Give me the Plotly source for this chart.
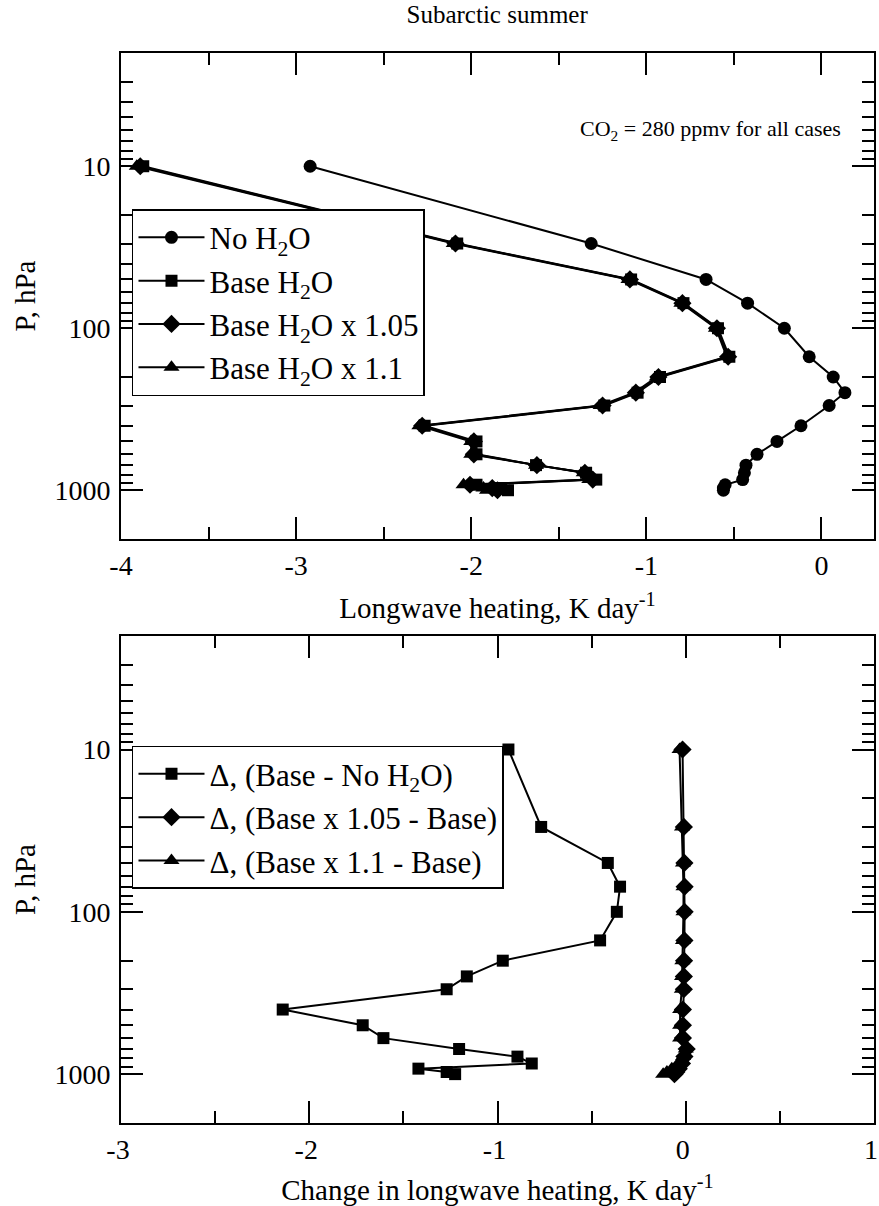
import plotly.graph_objects as go
import math

# Pressure levels (hPa)
levels = [10, 30, 50, 70, 100, 150, 200, 250, 300, 400, 500, 600, 700, 780, 860, 925, 970, 1000]

# Top panel: longwave heating, K/day
no_h2o = [-2.92, -1.315, -0.659, -0.422, -0.212, -0.070, 0.067, 0.134, 0.044, -0.117,
          -0.254, -0.368, -0.431, -0.44, -0.45, -0.55, -0.56, -0.56]
base_h2o = [-3.873, -2.08, -1.087, -0.788, -0.591, -0.526, -0.922, -1.05, -1.24, -2.266,
            -1.97, -1.97, -1.63, -1.344, -1.286, -1.97, -1.83, -1.79]
base_105 = [-3.89, -2.09, -1.094, -0.794, -0.597, -0.533, -0.931, -1.06, -1.25, -2.28,
            -1.985, -1.985, -1.625, -1.351, -1.306, -2.007, -1.88, -1.85]
base_110 = [-3.91, -2.10, -1.102, -0.80, -0.603, -0.541, -0.94, -1.07, -1.261, -2.296,
            -2.00, -2.00, -1.63, -1.358, -1.326, -2.044, -1.93, -1.91]

# Bottom panel: change in longwave heating, K/day
d_base_no = [-0.942, -0.768, -0.414, -0.349, -0.366, -0.455, -0.972, -1.163, -1.27, -2.141,
             -1.716, -1.606, -1.204, -0.894, -0.818, -1.42, -1.27, -1.225]
d_105 = [-0.017, -0.01, -0.007, -0.006, -0.006, -0.007, -0.009, -0.01, -0.01, -0.015,
         -0.015, -0.015, 0.005, -0.007, -0.02, -0.037, -0.05, -0.06]
d_110 = [-0.033, -0.02, -0.015, -0.012, -0.012, -0.015, -0.018, -0.02, -0.021, -0.03,
         -0.03, -0.03, 0.0, -0.014, -0.04, -0.074, -0.10, -0.12]

# Tick labels
y_major = [10, 100, 1000]
y_major_text = ["10", "100", "1000"]
y_minor = [2, 3, 4, 5, 6, 7, 8, 9, 20, 30, 40, 50, 60, 70, 80, 90,
           200, 300, 400, 500, 600, 700, 800, 900, 2000]
x_top_ticks = [-4, -3, -2, -1, 0]
x_top_text = ["-4", "-3", "-2", "-1", "0"]
x_bot_ticks = [-3, -2, -1, 0, 1]
x_bot_text = ["-3", "-2", "-1", "0", "1"]

FONT = "Liberation Serif"
BLACK = "black"

fig = go.Figure()

def add(x, name, symbol, size, xa, ya, legend):
    fig.add_trace(go.Scatter(
        x=x, y=levels, name=name, mode="lines+markers",
        line=dict(color=BLACK, width=2),
        marker=dict(symbol=symbol, size=size, color=BLACK),
        xaxis=xa, yaxis=ya, legend=legend, legendgroup=name))

add(no_h2o, "No H<sub>2</sub>O", "circle", 13, "x", "y", "legend")
add(base_h2o, "Base H<sub>2</sub>O", "square", 12, "x", "y", "legend")
add(base_105, "Base H<sub>2</sub>O x 1.05", "diamond", 14, "x", "y", "legend")
add(base_110, "Base H<sub>2</sub>O x 1.1", "triangle-up", 14, "x", "y", "legend")

add(d_base_no, "Δ, (Base - No H<sub>2</sub>O)", "square", 12, "x2", "y2", "legend2")
add(d_105, "Δ, (Base x 1.05 - Base)", "diamond", 14, "x2", "y2", "legend2")
add(d_110, "Δ, (Base x 1.1 - Base)", "triangle-up", 14, "x2", "y2", "legend2")

TICKFONT = dict(family=FONT, size=28, color=BLACK)
TITLEFONT = dict(family=FONT, size=29, color=BLACK)
LEGFONT = dict(family=FONT, size=31, color=BLACK)

ax_common = dict(
    showline=True, linecolor=BLACK, linewidth=2, mirror="allticks",
    ticks="inside", ticklen=22, tickwidth=2, tickcolor=BLACK,
    showgrid=False, zeroline=False, tickfont=TICKFONT, automargin=False,
    ticklabeloverflow="allow",
)

xminor = dict(ticks="inside", ticklen=12, tickwidth=2, tickcolor=BLACK, tick0=0, dtick=0.5,
              showgrid=False)
yminor = dict(ticks="inside", ticklen=12, tickwidth=2, tickcolor=BLACK, tickmode="array",
              tickvals=y_minor, showgrid=False)

top_dom = [0.5458, 1.0]
bot_dom = [0.0, 0.4551]
yrange = [math.log10(2000), math.log10(2)]

fig.update_layout(
    width=879, height=1206,
    margin=dict(l=121, r=5, t=53, b=83, autoexpand=False),
    paper_bgcolor="white", plot_bgcolor="white",
    font=dict(family=FONT, color=BLACK),
    title=dict(text="Subarctic summer", x=0.5656, xanchor="center", y=0.988, yanchor="middle",
               font=dict(family=FONT, size=25, color=BLACK)),
    xaxis=dict(ax_common, domain=[0, 1], anchor="y", range=[-4, 0.3], tickmode="array",
               tickvals=x_top_ticks, ticktext=x_top_text, minor=xminor,
               title=dict(text="Longwave heating, K day<sup>-1</sup>", standoff=18, font=TITLEFONT)),
    yaxis=dict(ax_common, domain=top_dom, anchor="x", type="log", range=yrange,
               tickmode="array", tickvals=y_major, ticktext=y_major_text, minor=yminor,
               ticklabelstandoff=3,
               title=dict(text="P, hPa", standoff=10, font=TITLEFONT)),
    xaxis2=dict(ax_common, domain=[0, 1], anchor="y2", range=[-3, 1], tickmode="array",
                tickvals=x_bot_ticks, ticktext=x_bot_text, minor=xminor,
                ticklabelshift=-3,
                title=dict(text="Change in longwave heating, K day<sup>-1</sup>", standoff=18,
                           font=TITLEFONT)),
    yaxis2=dict(ax_common, domain=bot_dom, anchor="x2", type="log", range=yrange,
                tickmode="array", tickvals=y_major, ticktext=y_major_text, minor=yminor,
                ticklabelstandoff=3,
                title=dict(text="P, hPa", standoff=10, font=TITLEFONT)),
    legend=dict(x=0.0146, y=0.854, xanchor="left", yanchor="top",
                bgcolor="white", bordercolor=BLACK, borderwidth=1.5,
                font=LEGFONT, itemwidth=66,
                traceorder="grouped", tracegroupgap=0),
    legend2=dict(x=0.0146, y=0.3526, xanchor="left", yanchor="top",
                 bgcolor="white", bordercolor=BLACK, borderwidth=1.5,
                 font=LEGFONT, itemwidth=66,
                 traceorder="grouped", tracegroupgap=0),
    showlegend=True,
    annotations=[dict(text="CO<sub>2</sub> = 280 ppmv for all cases", xref="paper", yref="paper",
                      x=0.9588, y=0.928, xanchor="right", yanchor="middle", showarrow=False,
                      font=dict(family=FONT, size=22, color=BLACK))],
)

fig.write_html("out.html", config={"displayModeBar": False},
               post_script="document.body.style.margin='0';")
